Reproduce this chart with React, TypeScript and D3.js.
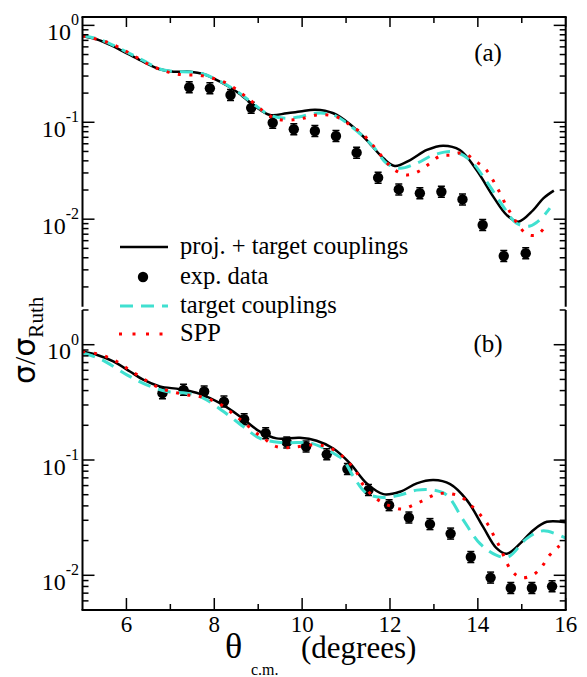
import React from "react";
import * as d3 from "d3";

// ---------- Panel (a) ----------
const thetaExpA = [7.43, 7.90, 8.37, 8.84, 9.33, 9.81, 10.29, 10.77, 11.24, 11.73, 12.20, 12.68, 13.17, 13.65, 14.11, 14.59, 15.09];
const expA = [0.230, 0.224, 0.191, 0.141, 0.099, 0.0847, 0.0813, 0.0722, 0.0486, 0.0268, 0.0203, 0.0185, 0.0192, 0.0160, 0.00871, 0.00417, 0.00445];

const thetaFullA = [5.0, 5.32, 5.63, 6.01, 6.38, 6.76, 7.07, 7.45, 7.75, 8.13, 8.51, 8.89, 9.27, 9.65, 9.95, 10.30, 10.71, 11.09, 11.30, 11.47, 11.85, 12.11, 12.46, 12.84, 13.21, 13.59, 13.97, 14.35, 14.66, 14.92, 15.26, 15.49, 15.73];
const fullA = [0.778, 0.718, 0.628, 0.515, 0.423, 0.352, 0.333, 0.333, 0.315, 0.262, 0.207, 0.151, 0.119, 0.124, 0.129, 0.135, 0.124, 0.0955, 0.078, 0.0656, 0.0425, 0.0354, 0.0408, 0.0518, 0.0574, 0.0518, 0.0322, 0.0171, 0.0110, 0.00942, 0.0124, 0.0164, 0.0197];

const thetaTargetA = [5.0, 5.32, 5.63, 6.01, 6.38, 6.76, 7.07, 7.45, 7.75, 8.13, 8.51, 8.89, 9.27, 9.65, 9.95, 10.30, 10.71, 11.17, 11.62, 11.92, 12.23, 12.61, 12.99, 13.44, 13.82, 14.20, 14.58, 14.88, 15.19, 15.41, 15.64];
const targetA = [0.785, 0.730, 0.645, 0.530, 0.435, 0.355, 0.335, 0.330, 0.315, 0.265, 0.210, 0.155, 0.118, 0.110, 0.114, 0.124, 0.119, 0.0867, 0.0560, 0.0378, 0.0335, 0.0378, 0.0460, 0.0498, 0.0408, 0.0244, 0.0135, 0.00908, 0.00851, 0.00982, 0.0130];

const thetaSppA = [5.0, 5.59, 6.10, 6.61, 7.14, 7.74, 8.28, 8.75, 9.23, 9.46, 9.80, 10.03, 10.33, 10.60, 10.86, 11.09, 11.36, 11.54, 11.73, 11.92, 12.13, 12.38, 12.64, 12.89, 13.14, 13.40, 13.67, 13.93, 14.18, 14.43, 14.66, 14.90, 15.11, 15.35, 15.53];
const sppA = [0.778, 0.664, 0.507, 0.375, 0.315, 0.301, 0.252, 0.179, 0.119, 0.107, 0.106, 0.110, 0.119, 0.119, 0.110, 0.0938, 0.0769, 0.0631, 0.0498, 0.0386, 0.0317, 0.0286, 0.0309, 0.0372, 0.0449, 0.0460, 0.0485, 0.0402, 0.0327, 0.0215, 0.0135, 0.0090, 0.00703, 0.00687, 0.0084];

// ---------- Panel (b) ----------
const thetaExpB = [6.82, 7.30, 7.77, 8.22, 8.68, 9.17, 9.65, 10.09, 10.56, 11.03, 11.51, 11.98, 12.43, 12.91, 13.38, 13.84, 14.29, 14.75, 15.23, 15.69];
const expB = [0.380, 0.406, 0.393, 0.321, 0.226, 0.171, 0.142, 0.131, 0.112, 0.0835, 0.0548, 0.0406, 0.0317, 0.0278, 0.0230, 0.0144, 0.00955, 0.00776, 0.00776, 0.00802];

const thetaFullB = [5.0, 5.32, 5.70, 6.08, 6.38, 6.76, 7.22, 7.67, 8.13, 8.59, 9.04, 9.42, 9.95, 10.33, 10.71, 11.09, 11.47, 11.85, 12.23, 12.61, 12.99, 13.37, 13.75, 14.12, 14.43, 14.66, 14.96, 15.26, 15.57, 16.0];
const fullB = [0.875, 0.818, 0.716, 0.586, 0.497, 0.435, 0.411, 0.375, 0.311, 0.238, 0.176, 0.154, 0.156, 0.147, 0.126, 0.0935, 0.0627, 0.0506, 0.0531, 0.0627, 0.0670, 0.0618, 0.0449, 0.0263, 0.0171, 0.0154, 0.0188, 0.0246, 0.0291, 0.0288];

const thetaTargetB = [5.0, 5.41, 6.01, 6.46, 6.92, 7.37, 7.75, 8.21, 8.66, 9.04, 9.50, 9.95, 10.10, 10.41, 10.79, 10.94, 11.17, 11.47, 11.85, 12.23, 12.61, 12.99, 13.29, 13.67, 14.05, 14.43, 14.69, 15.11, 15.49, 16.0];
const targetB = [0.847, 0.750, 0.548, 0.449, 0.393, 0.380, 0.344, 0.263, 0.195, 0.154, 0.142, 0.142, 0.143, 0.131, 0.110, 0.100, 0.0716, 0.0513, 0.0473, 0.0497, 0.0548, 0.0548, 0.0497, 0.0301, 0.0188, 0.0149, 0.0144, 0.0208, 0.0243, 0.0210];

const thetaSppB = [5.0, 5.32, 5.62, 5.84, 6.08, 6.33, 6.57, 6.84, 7.11, 7.39, 7.67, 7.96, 8.22, 8.45, 8.66, 8.89, 9.13, 9.38, 9.65, 9.94, 10.22, 10.52, 10.79, 11.03, 11.24, 11.39, 11.58, 11.81, 12.0, 12.27, 12.53, 12.80, 13.06, 13.33, 13.61, 13.84, 14.05, 14.24, 14.37, 14.50, 14.75, 14.98, 15.24, 15.45, 15.63, 15.83, 16.0];
const sppB = [0.875, 0.836, 0.766, 0.693, 0.598, 0.524, 0.458, 0.411, 0.385, 0.367, 0.356, 0.328, 0.291, 0.246, 0.215, 0.179, 0.154, 0.132, 0.128, 0.131, 0.135, 0.132, 0.118, 0.098, 0.078, 0.0607, 0.050, 0.043, 0.040, 0.0375, 0.0406, 0.0455, 0.0506, 0.0513, 0.0480, 0.0406, 0.0337, 0.0272, 0.0218, 0.0176, 0.0112, 0.00955, 0.0100, 0.0118, 0.0149, 0.0176, 0.0200];

// ---------- Axis ticks / labels ----------
const xMajorTicks = [6, 8, 10, 12, 14, 16];
const xMinorTicks = [7, 9, 11, 13, 15];
const legendLabels = ["proj. + target couplings", "exp. data", "target couplings", "SPP"];
const panelLabels = ["(a)", "(b)"];

const W = 587;
const H = 677;
const X0 = 82.5;
const X1 = 565.7;
const A_TOP = 17;
const A_BOT = 306.7;
const B_TOP = 310;
const B_BOT = 610;

const CYAN = "#40E0D0";
const RED = "#FF0000";
const SERIF_STYLE = { fontFamily: '"Liberation Serif"' };
const SANS_STYLE = { fontFamily: '"DejaVu Sans"' };

const x = d3.scaleLinear().domain([5, 16]).range([X0, X1]);
const yA = d3.scaleLog().domain([1.25e-3, 1.22]).range([A_BOT, A_TOP]);
const yB = d3.scaleLog().domain([5e-3, 2]).range([B_BOT, B_TOP]);

function pairs(t: number[], v: number[]): [number, number][] {
  return t.map((tt, i) => [tt, v[i]]);
}

function Panel({ y, top, bot, id, exp, full, target, spp, label, showTop, showBottom }: any) {
  const line = d3
    .line<[number, number]>()
    .x((d) => x(d[0]))
    .y((d) => y(d[1]))
    .curve(d3.curveCatmullRom.alpha(0.5));

  const [lo, hi] = y.domain();
  const eLo = Math.floor(Math.log10(lo));
  const eHi = Math.ceil(Math.log10(hi));
  const majors: number[] = [];
  const minors: number[] = [];
  for (let e = eLo; e <= eHi; e++) {
    const b = Math.pow(10, e);
    if (b >= lo * 0.999 && b <= hi * 1.001) majors.push(e);
    for (let m = 2; m <= 9; m++) {
      const v = m * b;
      if (v >= lo * 0.999 && v <= hi * 1.001) minors.push(v);
    }
  }

  return (
    <g>
      <defs>
        <clipPath id={id}>
          <rect x={X0} y={top} width={X1 - X0} height={bot - top} />
        </clipPath>
      </defs>
      <g clipPath={`url(#${id})`}>
        <path d={line(pairs(full[0], full[1])) || ""} fill="none" stroke="#000" strokeWidth={2.5} />
        {exp[0].map((t: number, i: number) => {
          const cx = x(t);
          const cy = y(exp[1][i]);
          return (
            <g key={i}>
              <line x1={cx} x2={cx} y1={cy - 5.5} y2={cy + 5.5} stroke="#000" strokeWidth={1.5} />
              <line x1={cx - 3.5} x2={cx + 3.5} y1={cy - 5.5} y2={cy - 5.5} stroke="#000" strokeWidth={1.5} />
              <line x1={cx - 3.5} x2={cx + 3.5} y1={cy + 5.5} y2={cy + 5.5} stroke="#000" strokeWidth={1.5} />
              <circle cx={cx} cy={cy} r={5.2} fill="#000" />
            </g>
          );
        })}
        <path d={line(pairs(target[0], target[1])) || ""} fill="none" stroke={CYAN} strokeWidth={3} strokeDasharray="13 8" />
        <path d={line(pairs(spp[0], spp[1])) || ""} fill="none" stroke={RED} strokeWidth={3} strokeDasharray="3 8.5" />
      </g>
      {/* frame */}
      <line x1={X0} x2={X0} y1={top} y2={bot} stroke="#000" strokeWidth={2} />
      <line x1={X1} x2={X1} y1={top} y2={bot} stroke="#000" strokeWidth={2} />
      {showTop && <line x1={X0 - 1} x2={X1 + 1} y1={top} y2={top} stroke="#000" strokeWidth={2} />}
      {showBottom && <line x1={X0 - 1} x2={X1 + 1} y1={bot} y2={bot} stroke="#000" strokeWidth={2} />}
      {/* y ticks */}
      {majors.map((e) => (
        <g key={"M" + e}>
          <line x1={X0} x2={X0 + 12} y1={y(Math.pow(10, e))} y2={y(Math.pow(10, e))} stroke="#000" strokeWidth={1.5} />
          <line x1={X1} x2={X1 - 12} y1={y(Math.pow(10, e))} y2={y(Math.pow(10, e))} stroke="#000" strokeWidth={1.5} />
          <text x={79} y={y(Math.pow(10, e)) + 14.5} textAnchor="end" style={{ ...SERIF_STYLE, fontSize: 24 }} fill="#000">
            10
            <tspan dy={-14.5} style={{ fontSize: 16 }}>
              {e}
            </tspan>
          </text>
        </g>
      ))}
      {minors.map((v, i) => (
        <g key={"m" + i}>
          <line x1={X0} x2={X0 + 6} y1={y(v)} y2={y(v)} stroke="#000" strokeWidth={1.5} />
          <line x1={X1} x2={X1 - 6} y1={y(v)} y2={y(v)} stroke="#000" strokeWidth={1.5} />
        </g>
      ))}
      {/* x ticks */}
      {showTop &&
        xMajorTicks.concat(xMinorTicks).map((t) => (
          <line key={"t" + t} x1={x(t)} x2={x(t)} y1={top} y2={top + (t % 2 === 0 ? 10 : 6)} stroke="#000" strokeWidth={1.5} />
        ))}
      {showBottom &&
        xMajorTicks.concat(xMinorTicks).map((t) => (
          <line key={"b" + t} x1={x(t)} x2={x(t)} y1={bot} y2={bot - (t % 2 === 0 ? 12 : 6)} stroke="#000" strokeWidth={1.5} />
        ))}
      {showBottom &&
        xMajorTicks.map((t) => (
          <text key={"l" + t} x={x(t)} y={bot + 22} textAnchor="middle" style={{ ...SERIF_STYLE, fontSize: 23 }} fill="#000">
            {t}
          </text>
        ))}
      <text x={488} y={top + (showTop ? 44 : 42)} textAnchor="middle" style={{ ...SERIF_STYLE, fontSize: 25 }} fill="#000">
        {label}
      </text>
    </g>
  );
}

export default function App() {
  const legendY = [247, 277, 306, 334];
  return (
    <svg width={W} height={H} style={{ position: "absolute", left: 0, top: 0, background: "#fff", fontFamily: '"Liberation Serif"' }}>
      <rect x={0} y={0} width={W} height={H} fill="#fff" />
      <Panel
        y={yA}
        top={A_TOP}
        bot={A_BOT}
        id="clipA"
        exp={[thetaExpA, expA]}
        full={[thetaFullA, fullA]}
        target={[thetaTargetA, targetA]}
        spp={[thetaSppA, sppA]}
        label={panelLabels[0]}
        showTop={true}
        showBottom={false}
      />
      <Panel
        y={yB}
        top={B_TOP}
        bot={B_BOT}
        id="clipB"
        exp={[thetaExpB, expB]}
        full={[thetaFullB, fullB]}
        target={[thetaTargetB, targetB]}
        spp={[thetaSppB, sppB]}
        label={panelLabels[1]}
        showTop={false}
        showBottom={true}
      />
      {/* legend */}
      <g>
        <line x1={120} x2={168} y1={legendY[0]} y2={legendY[0]} stroke="#000" strokeWidth={2.5} />
        <circle cx={143} cy={legendY[1]} r={5.2} fill="#000" />
        <line x1={120} x2={168} y1={legendY[2]} y2={legendY[2]} stroke={CYAN} strokeWidth={3} strokeDasharray="13 8" />
        <line x1={119} x2={168} y1={legendY[3]} y2={legendY[3]} stroke={RED} strokeWidth={3} strokeDasharray="3 10.5" />
        {legendLabels.map((s, i) => (
          <text key={s} x={180} y={legendY[i] + 7} style={{ ...SERIF_STYLE, fontSize: 24.5 }} fill="#000">
            {s}
          </text>
        ))}
      </g>
      {/* y axis title */}
      <text transform="translate(35,384) rotate(-90)" style={{ ...SERIF_STYLE }} fill="#000">
        <tspan style={{ ...SANS_STYLE, fontSize: 30 }}>σ</tspan>
        <tspan style={{ fontSize: 30 }}>/</tspan>
        <tspan style={{ ...SANS_STYLE, fontSize: 30 }}>σ</tspan>
        <tspan dy={8} style={{ fontSize: 21 }}>
          Ruth
        </tspan>
      </text>
      {/* x axis title */}
      <text x={225} y={658} style={{ ...SERIF_STYLE }} fill="#000">
        <tspan style={{ fontSize: 36 }}>θ</tspan>
        <tspan x={251} dy={17} style={{ fontSize: 16 }}>
          c.m.
        </tspan>
        <tspan x={301} dy={-17} style={{ fontSize: 31 }}>
          (degrees)
        </tspan>
      </text>
    </svg>
  );
}
